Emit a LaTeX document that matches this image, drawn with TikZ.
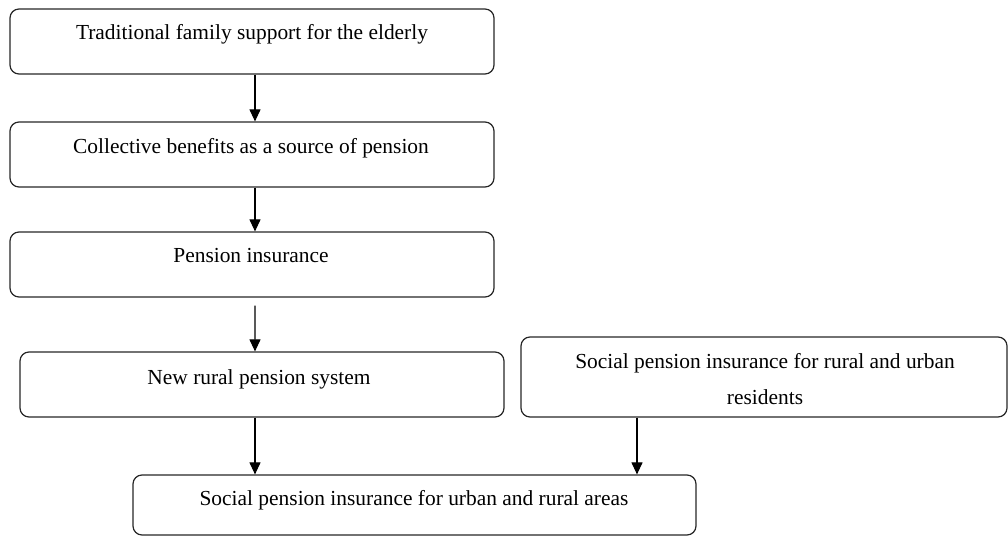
\documentclass[tikz,border=0pt]{standalone}
\usepackage{fontspec}
\setmainfont{Liberation Serif}
\usetikzlibrary{arrows.meta}
\begin{document}
\begin{tikzpicture}[x=1bp,y=-1bp,
  box/.style={draw=black!85, line width=1.2bp, rounded corners=9bp, inner sep=0pt, minimum width=484bp, minimum height=65bp},
  lbl/.style={font=\fontsize{21.5}{36}\selectfont, inner sep=0pt, anchor=mid, align=center},
  arr/.style={-{Triangle[length=12bp,width=11bp]}, line width=1.1bp, draw=black}]
\useasboundingbox (0,0) rectangle (1008,536);

\node[box] (b1) at (252,41.5) {};
\node[box] (b2) at (252,154.5) {};
\node[box] (b3) at (252,264.5) {};
\node[box] (b4) at (262,384.5) {};
\node[box, minimum width=486bp, minimum height=80bp] (b5) at (764,377) {};
\node[box, minimum width=563bp, minimum height=60bp] (b6) at (414.5,505) {};

\node[lbl] (t1) at (252,37) {Traditional family support for the elderly};
\node[lbl] (t2) at (251,151) {Collective benefits as a source of pension};
\node[lbl] (t3) at (251,260) {Pension insurance};
\node[lbl] (t4) at (259,382) {New rural pension system};
\node[lbl, anchor=north] (t5) at (765,353) {Social pension insurance for rural and urban\\residents};
\node[lbl] (t6) at (414,503) {Social pension insurance for urban and rural areas};

\draw[arr] ([xshift=3bp]b1.south) -- ([xshift=3bp]b2.north);
\draw[arr] ([xshift=3bp]b2.south) -- ([xshift=3bp]b3.north);
\draw[arr] ([xshift=3bp,yshift=-8bp]b3.south) -- ([xshift=-7bp]b4.north);
\coordinate (p4) at ([xshift=-7bp]b4.south);
\coordinate (p5) at ([xshift=-127bp]b5.south);
\draw[arr] (p4) -- (p4 |- b6.north);
\draw[arr] (p5) -- (p5 |- b6.north);
\end{tikzpicture}
\end{document}
